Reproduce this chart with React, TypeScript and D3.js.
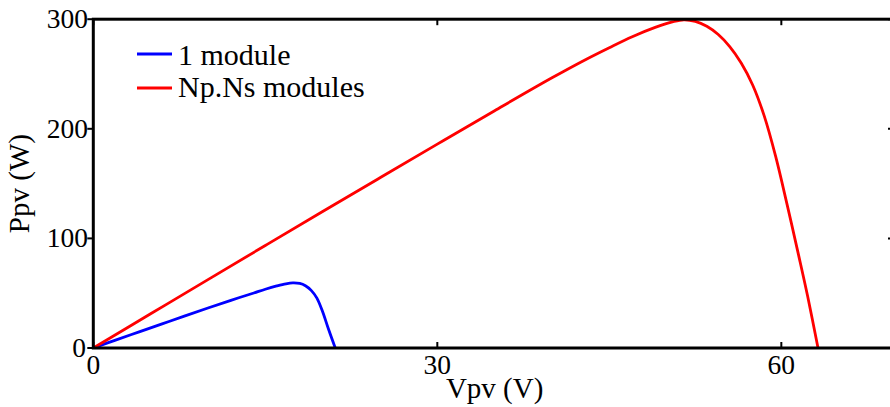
import React from "react";
import * as d3 from "d3";

// Power–voltage characteristic of a PV generator
const singleV = [0, 2, 4, 6, 8, 10, 12, 14, 15, 16, 16.8, 17.4, 18, 18.5, 19, 19.5, 20, 20.5, 21.1];
const singleP = [0, 7.4, 14.7, 22, 29.3, 36.5, 43.5, 50.2, 53.6, 56.6, 58.6, 59.4, 58.9, 56.8, 52.6, 45.5, 33, 17.5, 0];

const arrayV = [
  0, 5, 10, 15, 20, 25, 30, 35, 40, 43, 45, 47, 49, 50.5, 51.5, 52.5, 53.5, 54.5, 55.5, 56.5, 57.5, 58.5,
  59.5, 60.5, 61.5, 62.3, 63.2,
];
const arrayP = [
  0, 31.2, 62.4, 93.5, 124.5, 155.3, 186, 216.5, 246.5, 263.5, 274, 284, 292.5, 297.5, 299.5, 298, 293.5,
  286, 275, 260, 240, 212, 175, 131, 85, 47, 0,
];

const xTicks = [0, 30, 60];
const yTicks = [0, 100, 200, 300];

const seriesNames = ["1 module", "Np.Ns modules"];
const seriesColors = ["#0000ff", "#ff0000"];

const W = 890;
const H = 407;
const left = 93.3;
const right = 896;
const top = 19.2;
const bottom = 348;

const FONT = "'Liberation Serif', 'Times New Roman', serif";

export default function App() {
  const x = d3.scaleLinear().domain([0, 70]).range([left, right]);
  const y = d3.scaleLinear().domain([0, 300]).range([bottom, top]);

  const line = d3
    .line<[number, number]>()
    .x((d) => x(d[0]))
    .y((d) => y(d[1]))
    .curve(d3.curveCatmullRom.alpha(0.5));

  const series = [
    singleV.map((v, i) => [v, singleP[i]] as [number, number]),
    arrayV.map((v, i) => [v, arrayP[i]] as [number, number]),
  ];

  return (
    <svg
      width={W}
      height={H}
      style={{ position: "absolute", left: 0, top: 0, background: "#fff" }}
      fontFamily={FONT}
    >
      <defs>
        <clipPath id="plot">
          <rect x={left} y={top - 2} width={right - left} height={bottom - top + 2} />
        </clipPath>
      </defs>

      {/* curves */}
      <g clipPath="url(#plot)">
        {series.map((s, i) => (
          <path
            key={i}
            d={line(s) || ""}
            fill="none"
            stroke={seriesColors[i]}
            strokeWidth={2.8}
            strokeLinejoin="round"
          />
        ))}
      </g>

      {/* axes box */}
      <rect
        x={left}
        y={top}
        width={right - left}
        height={bottom - top}
        fill="none"
        stroke="#000"
        strokeWidth={3}
      />

      {/* x ticks */}
      {xTicks.map((t) => (
        <g key={"xt" + t}>
          <line x1={x(t)} x2={x(t)} y1={bottom} y2={bottom - 6} stroke="#000" strokeWidth={2} />
          <line x1={x(t)} x2={x(t)} y1={top} y2={top + 6} stroke="#000" strokeWidth={2} />
          <text x={x(t)} y={374} textAnchor="middle" fontSize={27.5} fill="#000">
            {t}
          </text>
        </g>
      ))}

      {/* y ticks */}
      {yTicks.map((t) => (
        <g key={"yt" + t}>
          <line x1={left - 6} x2={left} y1={y(t)} y2={y(t)} stroke="#000" strokeWidth={2} />
          <line x1={right - 8} x2={right} y1={y(t)} y2={y(t)} stroke="#000" strokeWidth={2} />
          <text
            x={t === 0 ? 86 : 88}
            y={y(t) + 9}
            textAnchor="end"
            fontSize={27.5}
            fill="#000"
          >
            {t}
          </text>
        </g>
      ))}

      {/* axis titles */}
      <text x={(left + right) / 2} y={398} textAnchor="middle" fontSize={29} fill="#000">
        Vpv (V)
      </text>
      <text
        transform={`translate(29, ${(top + bottom) / 2}) rotate(-90)`}
        textAnchor="middle"
        fontSize={29}
        fill="#000"
      >
        Ppv (W)
      </text>

      {/* legend */}
      {seriesNames.map((name, i) => {
        const ly = [54, 88][i];
        const by = [64.5, 96.5][i];
        return (
          <g key={name}>
            <line x1={137} x2={172} y1={ly} y2={ly} stroke={seriesColors[i]} strokeWidth={3} />
            <text x={178} y={by} fontSize={30} fill="#000">
              {name}
            </text>
          </g>
        );
      })}
    </svg>
  );
}
